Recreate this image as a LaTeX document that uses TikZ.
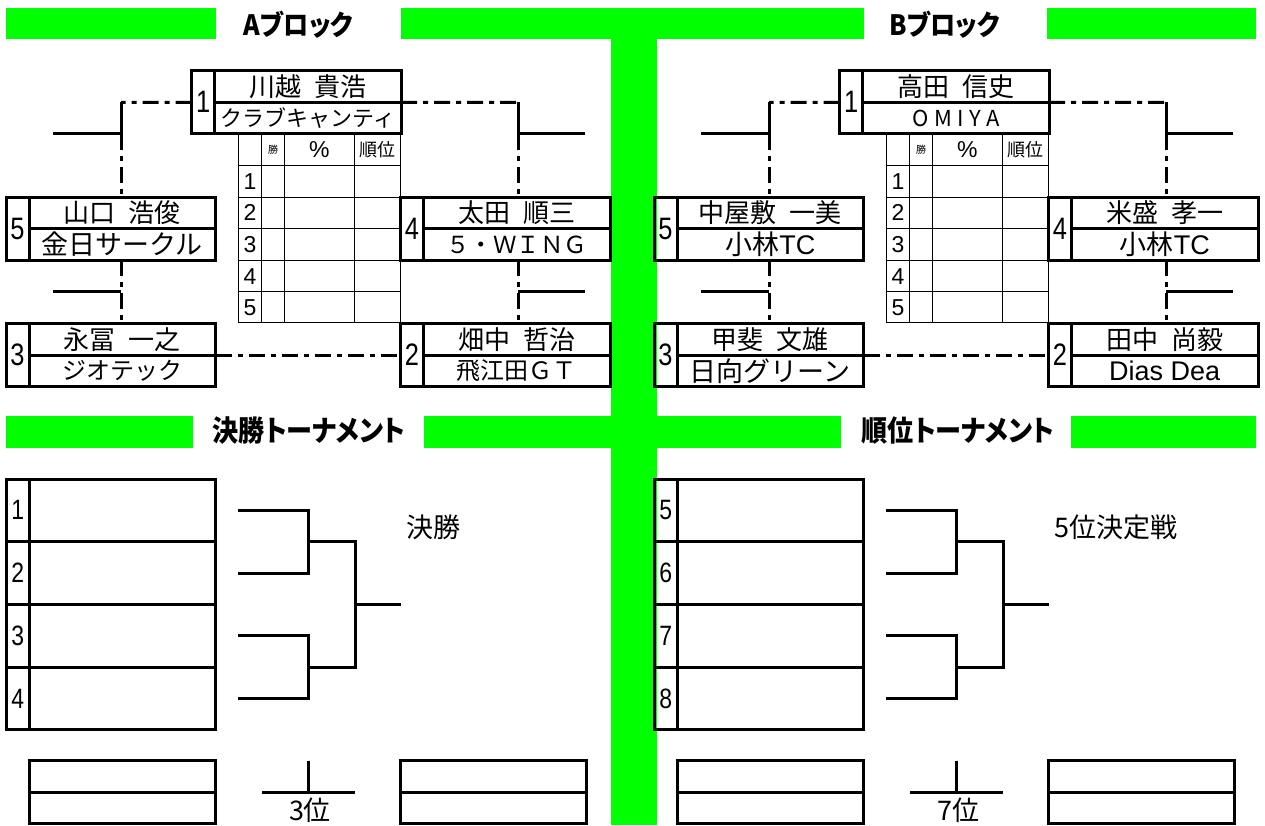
\documentclass[tikz,border=0pt]{standalone}
\usepackage{fontspec}
\setmainfont{Liberation Sans}
\newfontfamily\jp{Noto Sans CJK JP}
\newfontfamily\jpt{Noto Sans CJK JP}[RawFeature=+palt,FakeStretch=0.9]
\newfontfamily\narrow{Liberation Sans}[FakeStretch=0.82]
\usetikzlibrary{calc}
\definecolor{barGreen}{RGB}{0,255,0}

\begin{document}
\begin{tikzpicture}[x=1pt,y=-1pt,
  ebox/.style={draw,rectangle,line width=3pt,minimum width=209.5pt,minimum height=63.2pt,inner sep=0pt,outer sep=0pt,anchor=north west},
  boxline/.style={line width=3pt},
  bline/.style={line width=3pt},
  matchline/.style={line width=3pt,dash pattern=on 16pt off 6pt on 5pt off 6pt},
  tabline/.style={line width=1pt},
  numtxt/.style={inner sep=0pt,font=\narrow\fontsize{31pt}{31pt}\selectfont},
  seedtxt/.style={inner sep=0pt,font=\narrow\fontsize{28pt}{28pt}\selectfont},
  tabtxt/.style={inner sep=0pt,font=\fontsize{23pt}{23pt}\selectfont},
  nametxt/.style={inner sep=0pt,font=\jp\fontsize{26pt}{26pt}\selectfont},
  teamtxt/.style={inner sep=0pt,font=\jp\fontsize{27pt}{27pt}\selectfont},
  headtxt/.style={inner sep=0pt,font=\jpt\bfseries\fontsize{29pt}{29pt}\selectfont},
  infotxt/.style={inner sep=0pt,font=\jp\fontsize{27pt}{27pt}\selectfont}]
\useasboundingbox (0,0) rectangle (1265,825);

% green bars
\fill[barGreen] (6,8.3) rectangle (216,39.3);
\fill[barGreen] (401,8.3) rectangle (864,39.3);
\fill[barGreen] (1047,8.3) rectangle (1256,39.3);
\fill[barGreen] (611,39.3) rectangle (657,825);
\fill[barGreen] (6,416) rectangle (192.6,448);
\fill[barGreen] (423.5,416) rectangle (841,448);
\fill[barGreen] (1071,416) rectangle (1256,448);
\node[headtxt,font=\jpt\bfseries\fontsize{28pt}{28pt}\selectfont] (ttlA) at (298.5,24.5) {Aブロック};
\node[headtxt,font=\jpt\bfseries\fontsize{28pt}{28pt}\selectfont] (ttlB) at (944.5,24.5) {Bブロック};
\node[headtxt] (ttlF) at (309,431) {決勝トーナメント};
\node[headtxt] (ttlR) at (958,431) {順位トーナメント};

% players
\foreach \bx/\x/\y/\num/\nm/\tm in {
  a1/191.7/70.7/1/川越\enspace 貴浩/{\fontsize{22pt}{22pt}\selectfont クラブキャンティ},
  a5/6/197.1/5/山口\enspace 浩俊/金日サークル,
  a4/400.5/197.1/4/太田\enspace 順三/{\fontsize{23.5pt}{24pt}\selectfont ５・ＷＩＮＧ\quad},
  a3/6/323.5/3/永冨\enspace 一之/{\fontsize{24pt}{24pt}\selectfont ジオテック},
  a2/400.5/323.5/2/畑中\enspace 哲治/{\fontsize{24pt}{24pt}\selectfont 飛江田ＧＴ},
  b1/839.7/70.7/1/高田\enspace 信史/{\fontsize{22pt}{22pt}\selectfont\addfontfeatures{LetterSpace=25}OMIYA},
  b5/654/197.1/5/中屋敷\enspace 一美/小林\textrm{TC},
  b4/1048.5/197.1/4/米盛\enspace 孝一/小林\textrm{TC},
  b3/654/323.5/3/甲斐\enspace 文雄/日向グリーン,
  b2/1048.5/323.5/2/田中\enspace 尚毅/{\textrm{Dias Dea}}}{
  \node[ebox] (\bx) at (\x,\y) {};
  \draw[boxline] ([xshift=23pt]\bx.north west) -- ([xshift=23pt]\bx.south west);
  \draw[boxline] ([xshift=23pt]\bx.west) -- (\bx.east);
  \node[numtxt] (\bx-n) at ($(\bx.north west)!.5!([xshift=23pt]\bx.south west)$) {\num};
  \node[nametxt] (\bx-t) at ($([xshift=23pt]\bx.north west)!.5!(\bx.east)$) {\nm};
  \node[teamtxt] (\bx-c) at ($([xshift=23pt]\bx.west)!.5!(\bx.south east)$) {\tm};
}

\foreach \p/\dx/\k/\fin/\plc in {a/0/0/決勝/3位, b/648/4/5位決定戦/7位}{
\begin{scope}[xshift=\dx]
  % result table
  \draw[tabline] (238.3,133.9) rectangle (400.5,322.7);
  \foreach \tx in {261.7,284.3,354.3} \draw[tabline] (\tx,133.9) -- (\tx,322.7);
  \foreach \ty in {165.5,197.1,228.7,260.3,291.9} \draw[tabline] (238.3,\ty) -- (400.5,\ty);
  \foreach \r in {1,...,5} \node[tabtxt] (\p-r\r) at (250,149.7+31.6*\r) {\r};
  \node[inner sep=0pt,font=\jp\fontsize{10pt}{10pt}\selectfont] (\p-h1) at (273,150) {勝};
  \node[tabtxt] (\p-h2) at (319.3,150) {\%};
  \node[inner sep=0pt,font=\jp\fontsize{18pt}{18pt}\selectfont] (\p-h3) at (377.4,150) {順位};

  % league lines
  \coordinate (\p-L) at (121,102.3);
  \coordinate (\p-R) at (518,102.3);
  \coordinate (\p-L1) at (53,133.9);
  \coordinate (\p-R1) at (585,133.9);
  \coordinate (\p-L2) at (53,291.9);
  \coordinate (\p-R2) at (585,291.9);
  \draw[matchline] (\p1.west) -- (\p-L);
  \draw[matchline] (\p1.east) -- (\p-R);
  \draw[bline] (\p-L) |- (\p-L1);
  \draw[bline] (\p-R) |- (\p-R1);
  \draw[matchline] (\p-L |- \p1.south) -- (\p-L |- \p5.north);
  \draw[matchline] (\p-R |- \p1.south) -- (\p-R |- \p4.north);
  \draw[matchline] (\p-L |- \p5.south) -- (\p-L |- \p3.north);
  \draw[matchline] (\p-R |- \p4.south) -- (\p-R |- \p2.north);
  \draw[bline] (\p-L2) -- (\p-L |- \p-L2);
  \draw[bline] (\p-R |- \p-R2) -- (\p-R2);
  \draw[matchline] (\p3.east) -- (\p2.west);

  % tournament
  \draw[boxline] (6,479) rectangle (215.5,729.7);
  \draw[boxline] (29.7,479) -- (29.7,729.7);
  \foreach \ty in {541.7,604.3,667} \draw[boxline] (6,\ty) -- (215.5,\ty);
  \foreach \r in {1,...,4}{
    \pgfmathtruncatemacro\seed{\r+\k}
    \node[seedtxt] (\p-s\r) at (17.85,447.65+62.7*\r) {\seed};
    \coordinate (\p-e\r) at (238,447.65+62.7*\r);
  }
  \coordinate (\p-j1) at (308,541.7);
  \coordinate (\p-j2) at (308,667);
  \coordinate (\p-f) at (355,604.3);
  \coordinate (\p-w) at (400.5,604.3);
  \draw[bline] (\p-e1) -| (\p-j1) |- (\p-e2);
  \draw[bline] (\p-e3) -| (\p-j2) |- (\p-e4);
  \draw[bline] (\p-j1) -| (\p-f) |- (\p-j2);
  \draw[bline] (\p-f) -- (\p-w);
  \node[infotxt,anchor=west] (\p-fin) at (406,527) {\fin};

  % third place
  \draw[boxline] (29.7,760.7) rectangle (215.5,823.5);
  \draw[boxline] (29.7,792.1) -- (215.5,792.1);
  \draw[boxline] (400.5,760.7) rectangle (586,823.5);
  \draw[boxline] (400.5,792.1) -- (586,792.1);
  \coordinate (\p-t) at (308,760.7);
  \coordinate (\p-tl) at (261.7,792.1);
  \coordinate (\p-tr) at (355,792.1);
  \draw[bline] (\p-t) -- (\p-t |- \p-tl);
  \draw[bline] (\p-tl) -- (\p-tr);
  \node[infotxt] (\p-pl) at (310,810) {\plc};
\end{scope}
}
\end{tikzpicture}
\end{document}
